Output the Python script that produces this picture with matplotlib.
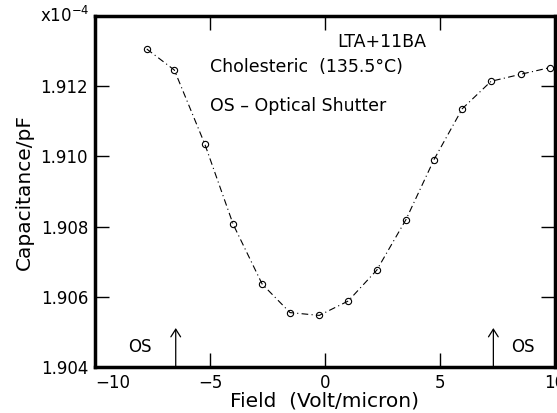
"""Capacitance versus field for LTA+11BA in the cholesteric phase."""

import matplotlib

matplotlib.use("Agg")
import matplotlib.pyplot as plt

# Data (capacitance in units of 1e-4 pF)
field = [-7.75, -6.55, -5.22, -3.99, -2.73, -1.52, -0.25, 1.01, 2.25, 3.52,
         4.74, 5.97, 7.22, 8.51, 9.78]
capacitance = [1.91306, 1.91246, 1.91034, 1.90806, 1.90636, 1.90555, 1.90547,
               1.90588, 1.90676, 1.90820, 1.90991, 1.91136, 1.91214, 1.91234,
               1.91253]
shutter_fields = [-6.49, 7.32]
x_ticks = [-10, -5, 0, 5, 10]
y_ticks = [1.904, 1.906, 1.908, 1.910, 1.912]

plt.rcParams["font.family"] = ["DejaVu Sans"]

fig = plt.figure(figsize=(5.57, 4.13), dpi=100)
ax = fig.add_axes([95 / 557, 1 - 367 / 413, 460 / 557, 351 / 413])

ax.plot(field, capacitance, color="black", linestyle="-.", linewidth=0.8,
        marker="o", markersize=4.5, markerfacecolor="none",
        markeredgewidth=0.8, dashes=(6, 3, 1, 3))

ax.set_xlim(-10, 10)
ax.set_ylim(1.904, 1.914)
ax.set_xticks(x_ticks, ["\u221210", "\u22125", "0", "5", "10"])
ax.set_yticks(y_ticks, [f"{v:.3f}" for v in y_ticks])
ax.tick_params(direction="in", length=10, width=1, labelsize=12,
               top=True, right=True, pad=5)
# the first x label sits right of its tick in the original
ax.get_xticklabels()[0].set_horizontalalignment("left")
for spine in ax.spines.values():
    spine.set_linewidth(2.5)

ax.set_xlabel("Field  (Volt/micron)", fontsize=14.5, labelpad=0)
ax.set_ylabel("Capacitance/pF", fontsize=14.5, labelpad=5)
fig.text(40 / 557, 1 - 16 / 413, "x10$^{-4}$", fontsize=12, va="center",
         ha="left")

# Optical shutter arrows
for xs in shutter_fields:
    ax.annotate("", xy=(xs, 1.90511), xytext=(xs, 1.904),
                arrowprops=dict(arrowstyle="->,head_length=0.55,head_width=0.35",
                                color="black", lw=0.9, shrinkA=0, shrinkB=0))
ax.text(-8.04, 1.90458, "OS", fontsize=12, ha="center", va="center")
ax.text(8.6, 1.90458, "OS", fontsize=12, ha="center", va="center")

ax.text(2.47, 1.91327, "LTA+11BA", fontsize=12.5, ha="center", va="center")
ax.text(-5.0, 1.91254, "Cholesteric  (135.5\u00b0C)", fontsize=12.5,
        ha="left", va="center", backgroundcolor="white")
ax.text(-5.0, 1.91144, "OS \u2013 Optical Shutter", fontsize=12.5, ha="left",
        va="center", backgroundcolor="white")

fig.savefig("out.png", dpi=100)
